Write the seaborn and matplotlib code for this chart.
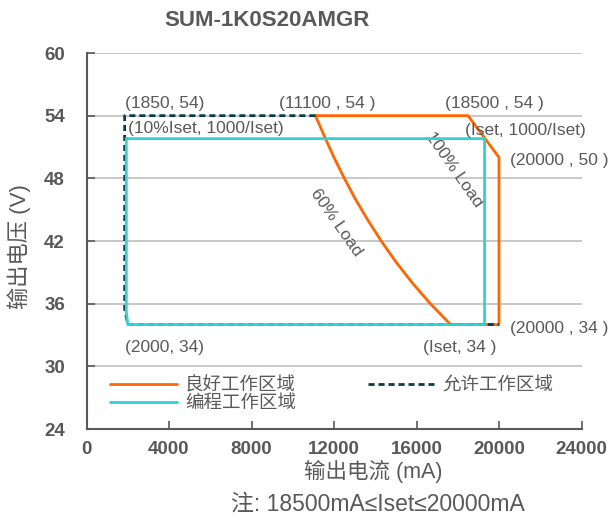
import matplotlib
matplotlib.use("Agg")
import matplotlib.pyplot as plt
import numpy as np
import pandas as pd
import seaborn as sns
from matplotlib.lines import Line2D

# 数据 (mA, V)
good_i = [11100, 18500, 20000, 20000, 17650, 16670, 15790, 15000, 14290, 13640, 13040, 12500, 12000, 11540, 11100]
good_v = [54, 54, 50, 34, 34, 36, 38, 40, 42, 44, 46, 48, 50, 52, 54]
allow_i = [11100, 1850, 1850, 2000, 20000]
allow_v = [54, 54, 35.5, 34, 34]
prog_i = [1930, 19300, 19300, 2000, 1930, 1930]
prog_v = [51.8, 51.8, 34, 34, 35.2, 51.8]

legend_labels = ['良好工作区域', '编程工作区域', '允许工作区域']
x_ticks = [0, 4000, 8000, 12000, 16000, 20000, 24000]
y_ticks = [24, 30, 36, 42, 48, 54, 60]

c_good = '#FF6600'
c_prog = '#2ED3D3'
c_allow = '#0E3A46'
gray = '#595959'

sns.set_theme(style="white")
plt.rcParams['font.family'] = ['Liberation Sans', 'Noto Sans CJK SC', 'DejaVu Sans']
plt.rcParams['axes.unicode_minus'] = False

fig = plt.figure(figsize=(6.11, 5.19), dpi=100)
ax = fig.add_axes([86.5 / 611, 1 - 429 / 519, 495 / 611, 376 / 519])

df_good = pd.DataFrame({'I': good_i, 'V': good_v})
df_allow = pd.DataFrame({'I': allow_i, 'V': allow_v})
df_prog = pd.DataFrame({'I': prog_i, 'V': prog_v})

sns.lineplot(data=df_good, x='I', y='V', sort=False, estimator=None, color=c_good, lw=2, ax=ax, zorder=3)
sns.lineplot(data=df_allow, x='I', y='V', sort=False, estimator=None, color=c_allow, lw=2, ax=ax, zorder=4,
             dashes=False, linestyle=(0, (2.2, 1.4)))
sns.lineplot(data=df_prog, x='I', y='V', sort=False, estimator=None, color=c_prog, lw=2, ax=ax, zorder=5)

ax.set_xlim(0, 24000)
ax.set_ylim(24, 60)
ax.set_xticks(x_ticks)
ax.set_yticks(y_ticks)
ax.set_xlabel('')
ax.set_ylabel('')
ax.yaxis.grid(True, color='#BFBFBF', lw=1.2)
ax.xaxis.grid(False)
for s in ['top', 'right']:
    ax.spines[s].set_visible(False)
for s in ['left', 'bottom']:
    ax.spines[s].set_color(gray)
    ax.spines[s].set_linewidth(1.5)
ax.tick_params(axis='both', direction='in', length=6, width=1.2, color=gray, labelcolor=gray, labelsize=13.5)
ax.tick_params(axis='y', pad=15.5, left=True)
ax.tick_params(axis='x', pad=9, bottom=True)
for lab in ax.get_xticklabels() + ax.get_yticklabels():
    lab.set_fontweight('bold')

# 标注
ann = dict(color=gray, fontsize=12.5, va='center', ha='left', clip_on=False, zorder=6)
ax.text(1867, 55.2, '(1850, 54)', **ann)
ax.text(9333, 55.2, '(11100 , 54 )', **ann)
ax.text(2012, 52.8, '(10%Iset, 1000/Iset)', **ann)
ax.text(17382, 55.2, '(18500 , 54 )', **ann)
ax.text(18351, 52.6, '(Iset, 1000/Iset)', **ann)
ax.text(20533, 49.75, '(20000 , 50 )', **ann)
ax.text(20533, 33.6, '(20000 , 34 )', **ann)
ax.text(16315, 31.85, '(Iset, 34 )', **ann)
ax.text(1867, 31.85, '(2000, 34)', **ann)
ax.text(12097, 43.8, '60% Load', color=gray, fontsize=12.5, rotation=-55, ha='center', va='center',
        rotation_mode='anchor')
ax.text(17818, 48.8, '100% Load', color=gray, fontsize=12.5, rotation=-55, ha='center', va='center',
        rotation_mode='anchor')

handles = [Line2D([], [], color=c_good, lw=2),
           Line2D([], [], color=c_prog, lw=2),
           Line2D([], [], color=c_allow, lw=2, linestyle=(0, (2.2, 1.4)))]
leg = fig.legend(handles, legend_labels, ncol=2, loc='upper left', bbox_to_anchor=(110 / 611, 1 - 377 / 519),
                 frameon=False, borderpad=0, borderaxespad=0, handlelength=3.6, handletextpad=0.45,
                 columnspacing=3.9, labelspacing=0.05, fontsize=13.3)
for t in leg.get_texts():
    t.set_color(gray)

fig.text(267 / 611, 1 - 21 / 519, 'SUM-1K0S20AMGR', color=gray, fontsize=16, fontweight='bold', ha='center', va='center')
fig.text(373 / 611, 1 - 471 / 519, '输出电流 (mA)', color=gray, fontsize=15.5, ha='center', va='center')
fig.text(378 / 611, 1 - 504 / 519, '注: 18500mA≤Iset≤20000mA', color=gray, fontsize=16.5, ha='center', va='center')
fig.text(19 / 611, 1 - 247 / 519, '输出电压 (V)', color=gray, fontsize=16, ha='center', va='center', rotation=90)

fig.savefig('out.png', dpi=100)
